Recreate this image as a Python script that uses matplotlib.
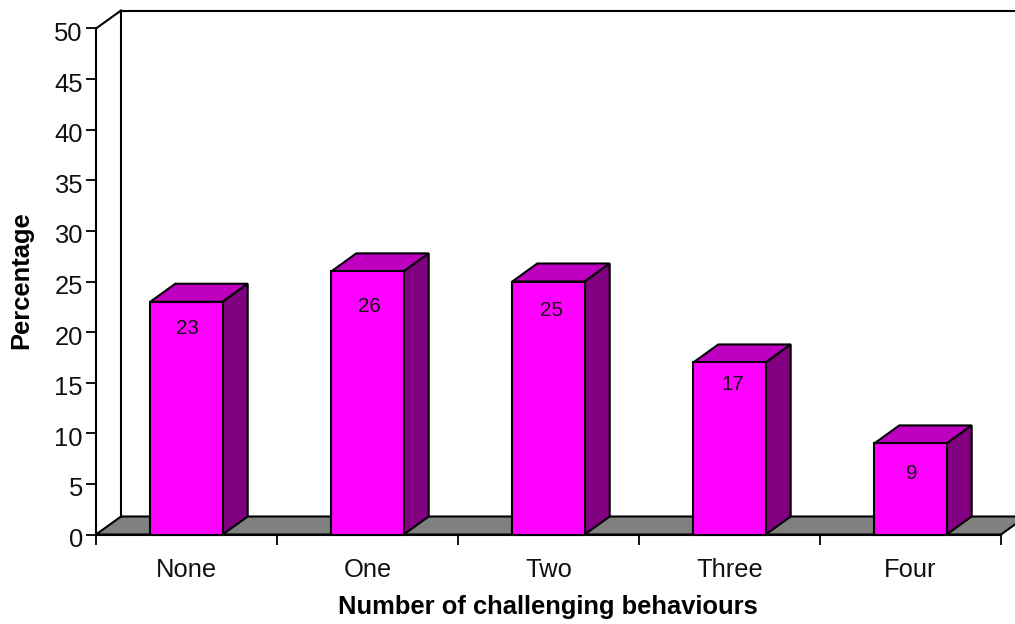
import matplotlib
matplotlib.use('Agg')
from matplotlib import pyplot as plt
from matplotlib.patches import Polygon
from matplotlib.transforms import ScaledTranslation

plt.rcParams['font.family'] = ['Liberation Sans', 'DejaVu Sans']

categories = ['None', 'One', 'Two', 'Three', 'Four']
percent = [23, 26, 25, 17, 9]
y_ticks = list(range(0, 55, 5))

W, H = 1015, 624
fig = plt.figure(figsize=(W / 100, H / 100), dpi=100)
ax = fig.add_axes([96 / W, 1 - 534.5 / H, 905 / W, 506 / H])
ax.set_xlim(0, 5)
ax.set_ylim(0, 50)
ax.patch.set_visible(False)

# depth of the fake 3d box, in data units
dx = 25 / 181
dy = 18 / 10.12
bar_w = 0.4
lw = 1.5

# floor and back wall
floor = Polygon([(0, 0), (dx, dy), (5 + dx, dy), (5, 0)], closed=True, facecolor='#808080',
                edgecolor='black', linewidth=lw, zorder=1, clip_on=False)
ax.add_patch(floor)
ax.plot([dx, dx], [dy, 50 + dy], color='black', lw=lw, zorder=1, clip_on=False)
ax.plot([dx, 5 + dx], [50 + dy, 50 + dy], color='black', lw=lw, zorder=1, clip_on=False)
ax.plot([0, dx], [50, 50 + dy], color='black', lw=lw, zorder=1, clip_on=False)

pos = [i + 0.5 for i in range(len(percent))]
ax.bar(pos, percent, width=bar_w, color='#ff00ff', edgecolor='black', linewidth=lw, zorder=4, clip_on=False)

# the labels are not placed evenly in the original, offsets in px from the bar top
label_off = [(1, -27), (2, -35), (3, -29), (3, -22), (1, -30)]
for x, v, off in zip(pos, percent, label_off):
    l, r = x - bar_w / 2, x + bar_w / 2
    # top and side of each bar
    ax.add_patch(Polygon([(l, v), (l + dx, v + dy), (r + dx, v + dy), (r, v)], closed=True,
                         facecolor='#c000c0', edgecolor='black', linewidth=lw, zorder=3, clip_on=False))
    ax.add_patch(Polygon([(r, 0), (r + dx, dy), (r + dx, v + dy), (r, v)], closed=True,
                         facecolor='#800080', edgecolor='black', linewidth=lw, zorder=3, clip_on=False))
    ax.annotate(str(v), (x, v), xytext=(off[0] * 0.72, off[1] * 0.72), textcoords='offset points',
                ha='center', va='center', fontsize=14.8, color='#111111', zorder=5)

for s in ['top', 'right']:
    ax.spines[s].set_visible(False)
for s in ['left', 'bottom']:
    ax.spines[s].set_linewidth(lw)
    ax.spines[s].set_zorder(2)

ax.set_xticks(range(6))
ax.set_xticklabels([])
ax.set_xticks(pos, categories, minor=True)
ax.set_yticks(y_ticks)
ax.tick_params(axis='x', which='major', length=7, width=1.3, direction='out')
ax.tick_params(axis='x', which='minor', length=0, pad=17, labelsize=18.4, labelcolor='#111111')
ax.tick_params(axis='y', length=7, width=1.3, labelsize=18.4, pad=2.5, labelcolor='#111111')

# y tick labels sit a little under their ticks
shift = ScaledTranslation(0, -3 / 100, fig.dpi_scale_trans)
for t in ax.get_yticklabels():
    t.set_transform(t.get_transform() + shift)

fig.text(21 / W, 1 - 280 / H, 'Percentage', rotation=90, ha='center', va='center',
         fontsize=18.4, fontweight='bold')
fig.text(548 / W, 1 - 607 / H, 'Number of challenging behaviours', ha='center', va='center',
         fontsize=18.4, fontweight='bold')

fig.savefig('out.png', dpi=100)
